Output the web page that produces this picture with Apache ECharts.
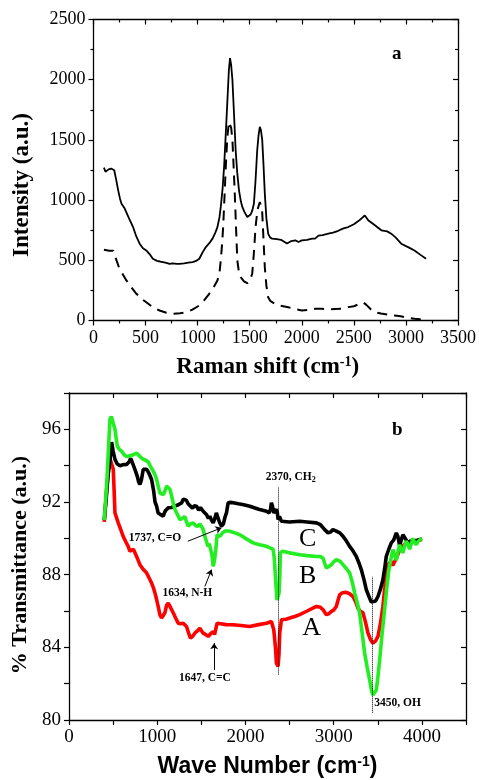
<!DOCTYPE html>
<html>
<head>
<meta charset="utf-8">
<script src="https://cdn.jsdelivr.net/npm/echarts@6/dist/echarts.min.js"></script>
<style>
html, body { margin: 0; padding: 0; background: #fff; }
#chart { width: 479px; height: 780px; }
</style>
</head>
<body>
<div id="chart"></div>
<script>
// (a) Raman spectra: [raman shift, intensity]
var ramanSolid = [
	[100,1270],[115,1235],[126,1225],[145,1255],[170,1262],[199,1248],[220,1160],[237,1081],[255,1010],[269,970],
	[300,930],[340,850],[380,776],[410,700],[443,638],[475,600],[507,582],[540,550],[570,513],[610,495],
	[640,490],[666,485],[700,478],[730,470],[760,475],[800,470],[825,471],[870,475],[910,480],[952,485],
	[985,495],[1016,513],[1050,570],[1079,610],[1110,640],[1143,680],[1170,730],[1190,776],[1210,860],[1222,943],
	[1240,1100],[1254,1276],[1270,1550],[1286,1830],[1300,2080],[1311,2180],[1322,2120],[1334,1997],[1350,1700],[1365,1414],
	[1380,1230],[1397,1081],[1415,990],[1429,943],[1450,900],[1477,860],[1495,865],[1509,880],[1525,915],[1540,970],
	[1555,1150],[1572,1414],[1585,1540],[1597,1608],[1608,1580],[1620,1500],[1632,1300],[1645,1054],[1660,850],[1677,721],
	[1695,690],[1715,680],[1760,675],[1800,670],[1858,640],[1900,660],[1938,666],[1969,652],[2000,665],[2050,670],
	[2100,680],[2128,680],[2160,705],[2200,710],[2255,721],[2300,730],[2350,745],[2400,765],[2446,776],[2500,800],
	[2550,830],[2605,872],[2640,830],[2680,805],[2764,749],[2820,740],[2859,721],[2900,690],[2955,638],[3030,605],
	[3082,582],[3140,545],[3193,513]
];
var ramanDashed = [
	[100,588],[150,580],[190,580],[221,499],[245,440],[269,402],[316,333],[360,280],[412,222],[460,180],
	[507,152],[570,110],[634,83],[700,65],[761,56],[830,60],[889,69],[950,90],[1016,125],[1060,165],
	[1111,222],[1150,270],[1190,333],[1210,400],[1222,499],[1235,640],[1245,776],[1258,1030],[1270,1276],[1285,1520],
	[1300,1650],[1311,1664],[1322,1600],[1334,1500],[1347,1250],[1359,998],[1370,740],[1381,499],[1395,410],[1413,360],
	[1445,325],[1477,310],[1500,330],[1524,388],[1540,560],[1556,776],[1575,920],[1597,984],[1610,950],[1620,900],
	[1632,680],[1645,443],[1660,290],[1677,194],[1700,160],[1740,140],[1779,125],[1810,120],[1870,110],[1930,95],
	[2001,83],[2060,88],[2128,97],[2192,97],[2260,92],[2320,95],[2383,97],[2446,111],[2500,118],[2557,139],
	[2590,150],[2620,130],[2660,95],[2700,69],[2760,58],[2820,50],[2891,42],[2950,35],[3010,25],[3082,14],
	[3140,10],[3193,28]
];

// (b) FTIR spectra: [wave number, % transmittance]
var ftirA = [
	[400,90.9],[430,92.9],[464,94.4],[480,94.3],[502,93.8],[521,91.4],[558,90.85],[585,90.5],[615,90.1],[645,89.8],
	[671,89.56],[690,89.3],[709,89.35],[730,89.4],[747,89.3],[775,88.9],[804,88.55],[840,88.3],[879,88.1],[910,87.8],
	[936,87.54],[955,87.3],[974,87.0],[990,86.7],[1011,86.25],[1030,85.8],[1049,85.61],[1068,85.75],[1087,85.9],[1105,86.3],
	[1125,86.44],[1150,86.2],[1181,85.9],[1210,85.6],[1238,85.33],[1265,85.3],[1295,85.33],[1315,85.25],[1332,85.15],[1355,84.8],
	[1377,84.5],[1400,84.6],[1426,84.78],[1455,84.9],[1483,85.05],[1500,84.95],[1521,84.78],[1550,84.7],[1577,84.6],[1605,84.75],
	[1634,84.87],[1650,84.7],[1664,84.6],[1679,85.33],[1720,85.3],[1780,85.25],[1860,85.24],[1950,85.2],[2049,85.15],[2150,85.25],
	[2238,85.33],[2294,85.42],[2321,84.97],[2340,84.0],[2351,83.13],[2370,82.95],[2380,83.6],[2389,84.8],[2408,85.52],[2460,85.55],
	[2502,85.61],[2560,85.7],[2615,85.8],[2700,86.0],[2804,86.25],[2850,86.2],[2880,86.07],[2917,85.8],[2945,85.85],[2974,85.98],
	[3000,86.05],[3030,86.25],[3050,86.6],[3068,86.9],[3100,87.0],[3143,87.03],[3180,86.95],[3219,86.8],[3250,86.5],[3275,86.16],
	[3300,86.0],[3332,85.9],[3360,85.4],[3389,84.78],[3420,84.4],[3445,84.23],[3475,84.35],[3502,84.6],[3530,85.3],[3558,86.25],
	[3580,87.3],[3596,88.28],[3625,88.6],[3653,88.74],[3670,88.5],[3691,88.46],[3720,89.0],[3748,89.38],[3790,89.6],[3823,89.75],
	[3870,89.8],[3920,89.85],[3960,89.9],[4000,89.94]
];
var ftirB = [
	[400,91.0],[430,93.2],[464,96.55],[480,96.7],[494,96.6],[521,96.0],[547,95.08],[570,94.9],[596,94.8],[625,94.6],
	[653,94.5],[690,94.55],[729,94.6],[766,94.7],[785,94.6],[804,94.5],[842,94.35],[870,94.3],[898,94.2],[925,93.95],
	[955,93.7],[975,93.5],[993,93.24],[1010,92.9],[1030,92.5],[1050,92.4],[1068,92.4],[1087,92.6],[1106,92.87],[1125,92.85],
	[1144,92.7],[1162,92.35],[1181,91.96],[1200,91.6],[1230,91.3],[1257,91.03],[1285,91.1],[1313,91.2],[1330,90.95],[1351,90.67],
	[1380,90.8],[1408,90.85],[1435,90.7],[1464,90.67],[1485,90.8],[1502,90.85],[1520,90.5],[1540,90.11],[1560,89.8],[1577,89.56],
	[1590,89.7],[1604,89.65],[1620,89.1],[1634,88.46],[1650,88.8],[1664,89.4],[1679,90.2],[1695,90.15],[1709,90.1],[1740,90.3],
	[1766,90.4],[1800,90.4],[1823,90.39],[1880,90.3],[1936,90.2],[2000,90.0],[2087,89.75],[2160,89.65],[2238,89.56],[2290,89.45],
	[2313,89.4],[2325,89.0],[2332,88.5],[2345,87.5],[2358,86.6],[2368,86.5],[2381,87.0],[2390,88.0],[2396,89.2],[2419,89.29],
	[2500,89.2],[2615,89.1],[2700,89.05],[2804,89.0],[2850,89.0],[2880,88.9],[2900,88.6],[2917,88.37],[2945,88.45],[2974,88.55],
	[3000,88.7],[3030,88.83],[3070,88.75],[3106,88.55],[3150,88.3],[3181,88.1],[3210,87.6],[3238,86.99],[3265,86.5],[3294,85.89],
	[3320,84.9],[3351,83.68],[3380,82.9],[3408,82.2],[3430,81.6],[3445,81.38],[3465,81.4],[3483,81.65],[3500,82.3],[3521,83.31],
	[3550,84.8],[3577,86.07],[3600,87.2],[3626,88.28],[3650,88.9],[3671,89.38],[3690,89.1],[3710,88.8],[3730,89.3],[3748,89.65],
	[3765,89.4],[3785,89.2],[3805,89.6],[3823,89.85],[3840,89.7],[3861,89.4],[3880,89.7],[3898,90.0],[3915,89.8],[3936,89.65],
	[3960,89.85],[3980,89.9],[4000,90.0]
];
var ftirC = [
	[400,91.0],[425,92.4],[445,93.6],[465,94.3],[483,95.3],[500,94.8],[521,94.35],[545,94.1],[577,94.0],[610,94.05],
	[653,94.07],[680,94.2],[700,94.4],[720,94.3],[747,93.8],[775,93.4],[790,93.1],[804,92.97],[820,93.2],[842,93.8],
	[860,93.85],[879,93.8],[905,93.6],[936,93.24],[960,92.6],[975,92.0],[993,91.77],[1010,91.4],[1030,91.3],[1068,91.22],
	[1090,91.5],[1106,91.6],[1125,91.68],[1160,91.7],[1200,91.77],[1240,91.85],[1276,91.95],[1295,92.15],[1313,92.23],[1330,92.1],
	[1350,91.9],[1370,91.86],[1400,91.65],[1420,91.8],[1445,91.77],[1470,91.55],[1490,91.7],[1521,91.49],[1560,91.3],[1580,91.1],
	[1596,91.22],[1615,91.0],[1634,90.85],[1650,91.05],[1670,91.4],[1690,91.4],[1705,90.9],[1728,90.67],[1750,90.8],[1770,91.2],
	[1785,91.4],[1795,91.7],[1804,91.96],[1830,91.98],[1860,91.96],[1920,91.9],[1980,91.85],[2049,91.77],[2150,91.6],[2238,91.49],
	[2268,91.4],[2285,91.6],[2294,91.96],[2305,91.8],[2321,91.4],[2335,91.45],[2351,91.6],[2362,91.4],[2370,91.03],[2385,91.2],
	[2408,90.94],[2500,90.9],[2615,90.94],[2700,90.9],[2804,90.85],[2850,90.75],[2898,90.48],[2936,90.3],[2965,90.35],[2992,90.48],
	[3030,90.4],[3070,90.3],[3106,90.11],[3145,89.85],[3181,89.56],[3220,89.3],[3257,89.0],[3290,88.6],[3313,88.28],[3345,87.7],
	[3370,87.17],[3400,86.8],[3425,86.5],[3445,86.44],[3475,86.55],[3502,86.8],[3530,87.2],[3558,87.72],[3580,88.4],[3596,89.0],
	[3625,89.4],[3653,89.75],[3680,89.9],[3710,90.3],[3728,90.1],[3748,89.6],[3765,89.9],[3785,90.2],[3800,90.1],[3823,89.9],
	[3842,89.75],[3870,89.85],[3898,89.85],[3950,89.9],[4000,89.97]
];

// peak labels: [wave number, transmittance, text]
var ftirNotes = [
	[2513, 93.35, "2370, CH{sub|2}"],
	[974, 90.04, "1737, C=O"],
	[1341, 87.0, "1634, N-H"],
	[1540, 82.32, "1647, C=C"],
	[3725, 80.94, "3450, OH"]
];
var curveNames = [
	[2706, 89.93, "C"],
	[2706, 87.9, "B"],
	[2751, 85.08, "A"]
];
// dotted guides and arrows: [from, to]
var ftirGuides = [
	[[2370, 82.5], [2370, 92.85]],
	[[3440, 80.4], [3440, 87.9]]
];
var ftirArrows = [
	[[1347, 89.84], [1729, 90.58]],
	[[1540, 87.35], [1616, 88.28]],
	[[1645, 82.76], [1645, 84.23]]
];

(function() {
	var myChart = echarts.init(document.getElementById("chart"));
	var serif = "Liberation Serif";
	var black = "#000";

	function axisBase(grid, pos, min, max, interval, size) {
		return {
			type: "value",
			gridIndex: grid,
			position: pos,
			min: min,
			max: max,
			interval: interval,
			splitLine: { show: false },
			axisLine: { show: true, onZero: false, lineStyle: { color: black, width: 1.3 } },
			axisTick: { show: true, length: 5, inside: pos === "top" || pos === "right", lineStyle: { color: black, width: 1.2 } },
			axisLabel: {
				show: pos === "bottom" || pos === "left",
				color: black, fontFamily: serif, fontSize: size,
				formatter: function(v) { return String(v); }
			}
		};
	}
	var minor = { show: true, splitNumber: 2, length: 3, lineStyle: { color: black, width: 1.2 } };

	var xTopMain = axisBase(0, "bottom", 0, 3500, 500, 18);
	xTopMain.minorTick = minor;
	xTopMain.axisLabel.margin = 9;
	xTopMain.name = "Raman shift (cm{sup|-1})";
	xTopMain.nameLocation = "middle";
	xTopMain.nameGap = 35;
	xTopMain.nameTextStyle = {
		fontFamily: serif, fontWeight: "bold", fontSize: 23, color: black, padding: [0, 16, 0, 0],
		rich: { sup: { fontFamily: serif, fontWeight: "bold", fontSize: 14, color: black, verticalAlign: "top" } }
	};
	var xTopMirror = axisBase(0, "top", 0, 3500, 500, 18);
	xTopMirror.minorTick = minor;

	var yTopMain = axisBase(0, "left", 0, 2500, 500, 18);
	yTopMain.minorTick = minor;
	yTopMain.axisLabel.margin = 8;
	yTopMain.name = "Intensity (a.u.)";
	yTopMain.nameLocation = "middle";
	yTopMain.nameGap = 60;
	yTopMain.nameTextStyle = { fontFamily: serif, fontWeight: "bold", fontSize: 23, color: black, padding: [0, 30, 0, 0] };
	var yTopMirror = axisBase(0, "right", 0, 2500, 500, 18);
	yTopMirror.minorTick = minor;

	var xBotMain = axisBase(1, "bottom", 0, 4500, 500, 19);
	xBotMain.axisLabel.margin = 8;
	xBotMain.axisLabel.formatter = function(v) { return v % 1000 === 0 && v <= 4000 ? String(v) : ""; };
	xBotMain.name = "Wave Number (cm{sup|-1})";
	xBotMain.nameLocation = "middle";
	xBotMain.nameGap = 35;
	xBotMain.nameTextStyle = {
		fontFamily: "Liberation Sans", fontWeight: "bold", fontSize: 23, color: black,
		rich: { sup: { fontFamily: "Liberation Sans", fontWeight: "bold", fontSize: 14, color: black, verticalAlign: "top" } }
	};
	var xBotMirror = axisBase(1, "top", 0, 4500, 500, 19);

	var yBotMain = axisBase(1, "left", 80, 98, 2, 19);
	yBotMain.axisLabel.margin = 8;
	yBotMain.axisLabel.formatter = function(v) { return v % 4 === 0 && v <= 96 ? String(v) : ""; };
	yBotMain.name = "% Transmittance (a.u.)";
	yBotMain.nameLocation = "middle";
	yBotMain.nameGap = 38;
	yBotMain.nameTextStyle = { fontFamily: serif, fontWeight: "bold", fontSize: 22, color: black, padding: [0, 17, 0, 0] };
	var yBotMirror = axisBase(1, "right", 80, 98, 2, 19);

	function spectrum(name, data, axis, color, width, type) {
		return {
			name: name,
			type: "line",
			xAxisIndex: axis,
			yAxisIndex: axis,
			data: data,
			symbol: "none",
			silent: true,
			lineStyle: { color: color, width: width, type: type || "solid" },
			z: 3
		};
	}

	function lineMarks(pairs, arrow) {
		return pairs.map(function(p) {
			return [
				{ coord: p[0], symbol: "none" },
				{ coord: p[1], symbol: arrow ? "arrow" : "none", symbolSize: 6 }
			];
		});
	}

	var option = {
		animation: false,
		backgroundColor: "#fff",
		title: [
			{ text: "a", left: 387, top: 40, textStyle: { fontFamily: serif, fontWeight: "bold", fontSize: 19, color: black } },
			{ text: "b", left: 387, top: 416, textStyle: { fontFamily: serif, fontWeight: "bold", fontSize: 19, color: black } }
		],
		grid: [
			{ left: 93.5, top: 19.5, width: 367, height: 301 },
			{ left: 69, top: 393, width: 397, height: 327 }
		],
		xAxis: [xTopMain, xTopMirror, xBotMain, xBotMirror],
		yAxis: [yTopMain, yTopMirror, yBotMain, yBotMirror],
		series: [
			spectrum("raman solid", ramanSolid, 0, black, 1.8),
			spectrum("raman dashed", ramanDashed, 0, black, 2, [10, 7]),
			spectrum("A", ftirA, 2, "#ff0000", 3.6),
			spectrum("C", ftirC, 2, "#000000", 3.6),
			spectrum("B", ftirB, 2, "#22ee22", 3.6),
			{
				name: "notes",
				type: "scatter",
				xAxisIndex: 2,
				yAxisIndex: 2,
				silent: true,
				symbolSize: 0,
				itemStyle: { opacity: 1 },
				data: ftirNotes,
				label: {
					show: true, position: "inside",
					formatter: function(p) { return p.data[2]; },
					fontFamily: serif, fontWeight: "bold", fontSize: 11.5, color: black,
					rich: { sub: { fontFamily: serif, fontWeight: "bold", fontSize: 8, color: black, verticalAlign: "bottom" } }
				},
				markLine: {
					silent: true,
					symbol: "none",
					label: { show: false },
					lineStyle: { color: black, width: 1, type: "dotted" },
					data: lineMarks(ftirGuides, false)
				},
				z: 5
			},
			{
				name: "curve names",
				type: "scatter",
				xAxisIndex: 2,
				yAxisIndex: 2,
				silent: true,
				symbolSize: 0,
				itemStyle: { opacity: 1 },
				data: curveNames,
				label: {
					show: true, position: "inside",
					formatter: function(p) { return p.data[2]; },
					fontFamily: serif, fontSize: 26, color: black
				},
				markLine: {
					silent: true,
					label: { show: false },
					lineStyle: { color: black, width: 1, type: "solid" },
					data: lineMarks(ftirArrows, true)
				},
				z: 5
			}
		]
	};

	myChart.setOption(option);

	window.addEventListener("resize", function() {
		myChart.resize();
	});
})();
</script>
</body>
</html>
